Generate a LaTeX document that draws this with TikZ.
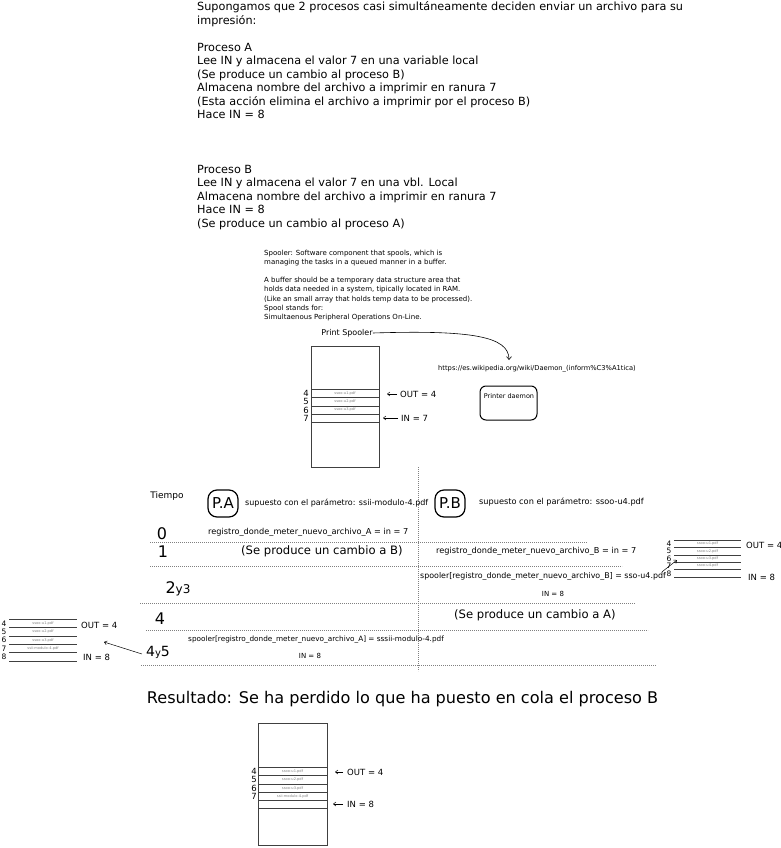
\documentclass[tikz,border=0pt]{standalone}
\usepackage{fontspec}
\setmainfont{DejaVu Sans}
\usetikzlibrary{arrows.meta}

\begin{document}
\begin{tikzpicture}[x=1pt,y=-1pt,
  body/.style={anchor=north west,inner sep=0pt,align=left,font=\fontsize{11.25}{13.5}\selectfont},
  note/.style={anchor=west,inner sep=0pt,font=\fontsize{7}{9.2}\selectfont},
  row/.style={anchor=west,inner sep=0pt,font=\fontsize{8.2}{9}\selectfont},
  big/.style={anchor=west,inner sep=0pt,font=\fontsize{11.6}{14}\selectfont},
  hand/.style={inner sep=0pt,font=\fontsize{16}{16}\selectfont},
  proc/.style={draw,line width=1.2pt,rounded corners=9pt,minimum width=30pt,minimum height=27pt,inner sep=0pt,font=\fontsize{15}{15}\selectfont},
  num/.style={inner sep=0pt,font=\fontsize{8.5}{8.5}\selectfont},
  file/.style={inner sep=0pt,text=gray,font=\fontsize{3.6}{4}\selectfont},
  ptr/.style={anchor=west,inner sep=0pt,font=\fontsize{8.5}{8.5}\selectfont},
  buf/.style={line width=0.6pt,black!75},
  rowsep/.style={gray,line width=0.5pt,dash pattern=on 0.8pt off 1.2pt},
  ptarrow/.style={line width=0.5pt,-{Straight Barb[length=2.5pt,width=4pt]}}]
  \useasboundingbox (0,0) rectangle (781,848);

  % the two processes
  \node[body] (intro) at (197,1.5) {Supongamos que 2 procesos casi simultáneamente deciden enviar un archivo para su\\impresión:};
  \node[body] (procA) at (197,43) {Proceso A\\Lee IN y almacena el valor 7 en una variable local\\(Se produce un cambio al proceso B)\\Almacena nombre del archivo a imprimir en ranura 7\\(Esta acción elimina el archivo a imprimir por el proceso B)\\Hace IN = 8};
  \node[body] (procB) at (197,165) {Proceso B\\Lee IN y almacena el valor 7 en una vbl. Local\\Almacena nombre del archivo a imprimir en ranura 7\\Hace IN = 8\\(Se produce un cambio al proceso A)};

  % spooler notes
  \node[note,anchor=north west,align=left] (defs) at (264,249.5) {Spooler: Software component that spools, which is\\managing the tasks in a queued manner in a buffer.\\[9.2pt]A buffer should be a temporary data structure area that\\holds data needed in a system, tipically located in RAM.\\(Like an small array that holds temp data to be processed).\\Spool stands for:\\Simultaenous Peripheral Operations On-Line.};
  \node[note,anchor=center,font=\fontsize{8}{9}\selectfont] (spool) at (347,333) {Print Spooler};
  \node[inner sep=0pt,font=\fontsize{6.7}{7}\selectfont] (url) at (537,369) {https://es.wikipedia.org/wiki/Daemon\_(inform\%C3\%A1tica)};
  \coordinate (hook) at (509,360);
  \draw[line width=0.6pt,-{Straight Barb[length=3pt,width=5pt]}] (spool.east) .. controls (470,330) and (509,336) .. (hook);
  \node[draw,line width=1pt,rounded corners=6pt,minimum width=57pt,minimum height=34pt,inner sep=0pt] (daemon) at (508.5,403) {};
  \node[inner sep=0pt,font=\fontsize{6.5}{7}\selectfont] (daemontxt) at (509,396) {Printer daemon};

  % buffer before
  \draw[buf] (311,346) rectangle (379,467);
  \foreach \y in {389,397.4,405.8,414.2,422.6}
    \draw[buf] (311,\y) -- (379,\y);
  \foreach \n/\y in {4/393.2,5/401.6,6/410,7/418.4}
    \node[num] (a\n) at (306,\y) {\n};
  \foreach \n/\f/\y in {1/ssoo-u1.pdf/393.2,2/ssoo-u2.pdf/401.6,3/ssoo-u3.pdf/410}
    \node[file] (af\n) at (345,\y) {\f};
  \node[ptr] (out1) at (400,394) {OUT = 4};
  \node[ptr] (in1) at (401,418) {IN = 7};
  \coordinate (out1tip) at (387,394);
  \coordinate (in1tip) at (383,418);
  \draw[ptarrow] ([xshift=-3pt]out1.west) -- (out1tip);
  \draw[ptarrow] ([xshift=-3pt]in1.west) -- (in1tip);

  % time table
  \coordinate (divtop) at (418,467);
  \coordinate (divbot) at (418,671);
  \draw[rowsep] (divtop) -- (divbot);
  \draw[rowsep] (150,542.5) -- (587,542.5);
  \draw[rowsep] (150,566) -- (622,566);
  \draw[rowsep] (140,603) -- (635,603);
  \draw[rowsep] (146,630) -- (648,630);
  \draw[rowsep] (141,665) -- (656,665);

  \node[hand,font=\fontsize{9}{9}\selectfont] (tiempo) at (167,496) {Tiempo};
  \node[proc] (pa) at (223,503.5) {P.A};
  \node[row,font=\fontsize{8}{9}\selectfont] (paarg) at (245,503) {supuesto con el parámetro: ssii-modulo-4.pdf};
  \node[proc] (pb) at (450,503.5) {P.B};
  \node[row] (pbarg) at (479,502) {supuesto con el parámetro: ssoo-u4.pdf};

  \node[hand] (t0) at (162,534) {0};
  \node[row] (regA) at (208,532) {registro\_donde\_meter\_nuevo\_archivo\_A = in = 7};
  \node[hand] (t1) at (163,552) {1};
  \node[big] (toB) at (241,551) {(Se produce un cambio a B)};
  \node[row] (regB) at (436,551) {registro\_donde\_meter\_nuevo\_archivo\_B = in = 7};
  \node[hand] (t23) at (178,589) {2{\fontsize{12}{12}\selectfont y3}};
  \node[row,font=\fontsize{7.9}{9}\selectfont] (splB) at (420,576) {spooler[registro\_donde\_meter\_nuevo\_archivo\_B] = sso-u4.pdf};
  \node[note,anchor=center] (inB) at (553,594) {IN = 8};
  \node[hand] (t4) at (160,619) {4};
  \node[big] (toA) at (454,615) {(Se produce un cambio a A)};
  \node[hand,font=\fontsize{14}{14}\selectfont] (t45) at (158,652) {4{\fontsize{10}{10}\selectfont y}5};
  \node[row,font=\fontsize{7.3}{9}\selectfont] (splA) at (188,640) {spooler[registro\_donde\_meter\_nuevo\_archivo\_A] = sssii-modulo-4.pdf};
  \node[note,anchor=center] (inA) at (310,656) {IN = 8};

  % buffer after B
  \foreach \y in {540,547.4,554.8,562.2,569.6,577}
    \draw[buf] (674,\y) -- (741,\y);
  \foreach \n/\y in {4/543.7,5/551.1,6/558.5,7/565.9,8/573.3}
    \node[num,font=\fontsize{7.5}{7.5}\selectfont] (b\n) at (669,\y) {\n};
  \foreach \n/\f/\y in {1/ssoo-u1.pdf/543.7,2/ssoo-u2.pdf/551.1,3/ssoo-u3.pdf/558.5,4/ssoo-u4.pdf/565.9}
    \node[file] (bf\n) at (707.5,\y) {\f};
  \node[ptr] (out2) at (746,545) {OUT = 4};
  \node[ptr] (in2) at (748,577) {IN = 8};
  \coordinate (buftwo) at (677,560);
  \draw[ptarrow] ([xshift=-4pt]splB.north east) -- (buftwo);

  % buffer after A
  \foreach \y in {619.3,627.6,635.9,644.2,652.5,660.8}
    \draw[buf] (9,\y) -- (77,\y);
  \foreach \n/\y in {4/623.5,5/631.8,6/640,7/648.4,8/656.7}
    \node[num,font=\fontsize{7.5}{7.5}\selectfont] (c\n) at (4,\y) {\n};
  \foreach \n/\f/\y in {1/ssoo-u1.pdf/623.5,2/ssoo-u2.pdf/631.8,3/ssoo-u3.pdf/640,4/ssii-modulo-4.pdf/648.4}
    \node[file] (cf\n) at (43,\y) {\f};
  \node[ptr] (out3) at (81,625) {OUT = 4};
  \node[ptr] (in3) at (83,657) {IN = 8};
  \coordinate (bufthree) at (104,642);
  \draw[ptarrow] ([xshift=-4pt,yshift=-2pt]t45.west) -- (bufthree);

  \node[inner sep=0pt,font=\fontsize{16.1}{18}\selectfont] (result) at (402.5,699) {Resultado: Se ha perdido lo que ha puesto en cola el proceso B};

  % final buffer
  \draw[buf] (258,723) rectangle (327,845);
  \foreach \y in {767,775.4,783.8,792.2,800.6,808.6}
    \draw[buf] (258,\y) -- (327,\y);
  \foreach \n/\y in {4/771.2,5/779.6,6/788,7/796.4}
    \node[num] (d\n) at (254,\y) {\n};
  \foreach \n/\f/\y in {1/ssoo-u1.pdf/771.2,2/ssoo-u2.pdf/779.6,3/ssoo-u3.pdf/788,4/ssii-modulo-4.pdf/796.4}
    \node[file] (df\n) at (292.5,\y) {\f};
  \node[ptr] (out4) at (347,772) {OUT = 4};
  \node[ptr] (in4) at (347,804) {IN = 8};
  \coordinate (out4tip) at (335,772);
  \coordinate (in4tip) at (333,804);
  \draw[ptarrow] ([xshift=-4pt]out4.west) -- (out4tip);
  \draw[ptarrow] ([xshift=-4pt]in4.west) -- (in4tip);
\end{tikzpicture}
\end{document}
